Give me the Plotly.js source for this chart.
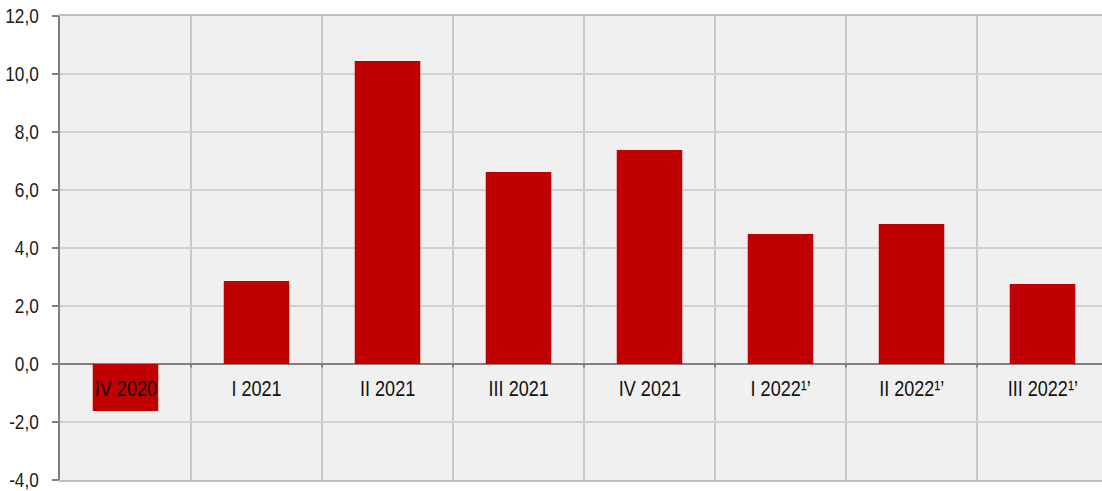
<!DOCTYPE html>
<html>
<head>
<meta charset="utf-8">
<script src="https://cdn.plot.ly/plotly-3.0.1.min.js"></script>
<style>
html,body{margin:0;padding:0;overflow:hidden;background:#fff;}
#chart{width:1108px;height:491px;}
</style>
</head>
<body>
<div id="chart"></div>
<script>
const categories = ["IV 2020", "I 2021", "II 2021", "III 2021", "IV 2021", "I 2022¹’", "II 2022¹’", "III 2022¹’"];
const values = [-1.62, 2.86, 10.45, 6.62, 7.38, 4.48, 4.83, 2.76];
const yTickVals = [-4, -2, 0, 2, 4, 6, 8, 10, 12];
const yTickText = ["-4,0", "-2,0", "0,0", "2,0", "4,0", "6,0", "8,0", "10,0", "12,0"];

const fontFamily = '"Liberation Sans", Arial, sans-serif';
const NARROW = 0.82;

const trace = {
  type: 'bar',
  x: categories,
  y: values,
  width: 0.5,
  marker: {color: '#c00000', line: {width: 0}},
  hoverinfo: 'none'
};

const annotations = categories.map(c => ({
  x: c, y: 0, xref: 'x', yref: 'y',
  text: c, showarrow: false,
  yanchor: 'top', yshift: -10,
  font: {family: fontFamily, size: 22, color: '#111'}
}));

// small boundary ticks under the zero line
const shapes = categories.slice(1).map((c, i) => ({
  type: 'line', xref: 'x', yref: 'y',
  x0: i + 0.5, x1: i + 0.5, y0: 0, y1: -0.12,
  line: {color: '#808080', width: 2}
}));

const layout = {
  width: 1108, height: 491,
  margin: {l: 60, r: 0, t: 16, b: 11},
  paper_bgcolor: '#ffffff',
  plot_bgcolor: '#f0f0f0',
  showlegend: false,
  bargap: 0.5,
  xaxis: {
    type: 'category',
    range: [-0.5, 7.5],
    tickson: 'boundaries',
    showgrid: true,
    gridcolor: '#c8c8c8',
    gridwidth: 1.5,
    showticklabels: false,
    ticks: '',
    showline: true,
    mirror: true,
    linecolor: '#c0c0c0',
    linewidth: 2,
    zeroline: false,
    fixedrange: true
  },
  yaxis: {
    range: [-4, 12],
    tickmode: 'array',
    tickvals: yTickVals,
    ticktext: yTickText,
    showgrid: true,
    gridcolor: '#d0d0d0',
    gridwidth: 1.5,
    zeroline: true,
    zerolinecolor: '#808080',
    zerolinewidth: 2,
    showline: true,
    linecolor: '#808080',
    linewidth: 2,
    ticks: 'outside',
    ticklen: 6,
    tickcolor: '#808080',
    tickwidth: 2,
    ticklabelstandoff: 9,
    ticklabeloverflow: 'allow',
    tickfont: {family: fontFamily, size: 21, color: '#1a1a1a'},
    fixedrange: true
  },
  annotations: annotations,
  shapes: shapes
};

Plotly.newPlot('chart', [trace], layout, {displayModeBar: false, staticPlot: true}).then(gd => {
  // emulate a narrow (condensed) typeface by compressing glyphs horizontally
  gd.querySelectorAll('.annotation-text, .ytick text').forEach(t => {
    const len = t.getComputedTextLength();
    if (len > 0) {
      t.setAttribute('textLength', (len * NARROW).toFixed(2));
      t.setAttribute('lengthAdjust', 'spacingAndGlyphs');
    }
  });
});
</script>
</body>
</html>
